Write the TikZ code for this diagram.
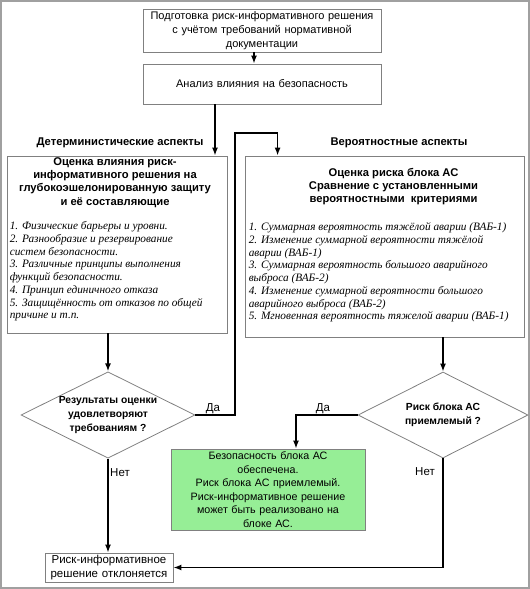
\documentclass[tikz,border=0pt]{standalone}
\usepackage{fontspec}
\setmainfont{Liberation Sans}
\newfontfamily\listfont{Liberation Serif}
\usetikzlibrary{shapes.geometric,arrows.meta}
\newcommand\fsize[2]{\fontsize{#1}{#2}\selectfont}
\definecolor{framegray}{RGB}{160,160,160}
\definecolor{boxgray}{RGB}{128,128,128}
\definecolor{okgreen}{RGB}{150,238,150}
\tikzset{
  box/.style={draw=boxgray,line width=0.8pt,fill=white,inner sep=1pt,align=center},
  decision/.style={diamond,draw=boxgray,line width=0.8pt,aspect=2,inner sep=0pt,
    align=center,font=\bfseries\fsize{10.3}{14}},
  head/.style={inner sep=0pt,align=center,font=\bfseries\fsize{11.2}{13.3}},
  items/.style={inner sep=0pt,align=left,font=\listfont\itshape\fsize{11.3}{12.7}},
  lbl/.style={inner sep=1pt,font=\fsize{11.5}{13}},
  arr/.style={line width=1.5pt,-{Latex[length=8pt,width=6pt]}}
}

\begin{document}
\begin{tikzpicture}[x=1pt,y=-1pt]
  \useasboundingbox (0,0) rectangle (530,589);
  \draw[framegray,line width=2pt] (1,1) rectangle (529,588);

  % top boxes
  \node[box,minimum width=238,minimum height=43,text width=234,font=\fsize{11}{14.2}] (prep) at (262,30.5)
    {Подготовка риск-информативного решения\\с учётом требований нормативной\\документации};
  \node[box,minimum width=238,minimum height=40,text width=234,font=\fsize{11}{14.2}] (analysis) at (262,84)
    {Анализ влияния на безопасность};

  % aspects
  \node[head] (detlabel) at (120,143) {Детерминистические аспекты};
  \node[head] (problabel) at (399,143) {Вероятностные аспекты};

  \node[box,minimum width=220,minimum height=177] (det) at (117,244.5) {};
  \node[head,anchor=north] (dethead) at ([xshift=-2pt,yshift=-1.5pt]det.north)
    {Оценка влияния риск-\\информативного решения на\\глубокоэшелонированную защиту\\и её составляющие};
  \node[items,anchor=north west] (detlist) at ([xshift=3pt,yshift=-66pt]det.north west)
    {1. Физические барьеры и уровни.\\
     2. Разнообразие и резервирование\\
     систем безопасности.\\
     3. Различные принципы выполнения\\
     функций безопасности.\\
     4. Принцип единичного отказа\\
     5. Защищённость от отказов по общей\\
     причине и т.п.};

  \node[box,minimum width=279,minimum height=181] (prob) at (384.5,246.5) {};
  \node[head,anchor=north] (probhead) at ([xshift=9pt,yshift=-12pt]prob.north)
    {Оценка риска блока АС\\Сравнение с установленными\\вероятностными\ \ критериями};
  \node[items,anchor=north west] (problist) at ([xshift=4pt,yshift=-67pt]prob.north west)
    {1. Суммарная вероятность тяжёлой аварии (ВАБ-1)\\
     2. Изменение суммарной вероятности тяжёлой\\
     аварии (ВАБ-1)\\
     3. Суммарная вероятность большого аварийного\\
     выброса (ВАБ-2)\\
     4. Изменение суммарной вероятности большого\\
     аварийного выброса (ВАБ-2)\\
     5. Мгновенная вероятность тяжелой аварии (ВАБ-1)};

  % decisions
  \node[decision,minimum width=174,minimum height=86] (ddet) at (108,415)
    {Результаты оценки\\удовлетворяют\\требованиям ?};
  \node[decision,minimum width=170,minimum height=86] (rdiam) at (443,415)
    {Риск блока АС\\приемлемый ?};

  \node[box,fill=okgreen,minimum width=194,minimum height=81,text width=190,font=\fsize{10.7}{13.5}] (ok) at (268,489.5)
    {Безопасность блока АС\\обеспечена.\\Риск блока АС приемлемый.\\Риск-информативное решение\\может быть реализовано на\\блоке АС.};
  \node[box,minimum width=128,minimum height=29,text width=124,font=\fsize{11.5}{14}] (reject) at (109,567.5)
    {Риск-информативное\\решение отклоняется};

  % connectors
  \coordinate (jump) at (235,133);
  \draw[arr] ([xshift=-8pt]prep.south) -- ([xshift=-8pt]prep.south |- analysis.north);
  \draw[arr] ([xshift=-47pt]analysis.south) -- ([xshift=-47pt]analysis.south |- det.north);
  \draw[arr] (det.south -| ddet.north) -- (ddet.north);
  \draw[arr] (ddet.east) -| (jump) -| ([xshift=33pt]prob.north west);
  \draw[arr] (ddet.south) -- (ddet.south |- reject.north);
  \draw[arr] (rdiam.north |- prob.south) -- (rdiam.north);
  \draw[arr] (rdiam.west) -| ([xshift=28pt]ok.north);
  \draw[arr] (rdiam.south) |- (reject.east);

  \node[lbl] (detyes) at (213,409) {Да};
  \node[lbl] (detno) at (120,473) {Нет};
  \node[lbl] (probyes) at (323,409) {Да};
  \node[lbl] (probno) at (425,472) {Нет};
\end{tikzpicture}
\end{document}
